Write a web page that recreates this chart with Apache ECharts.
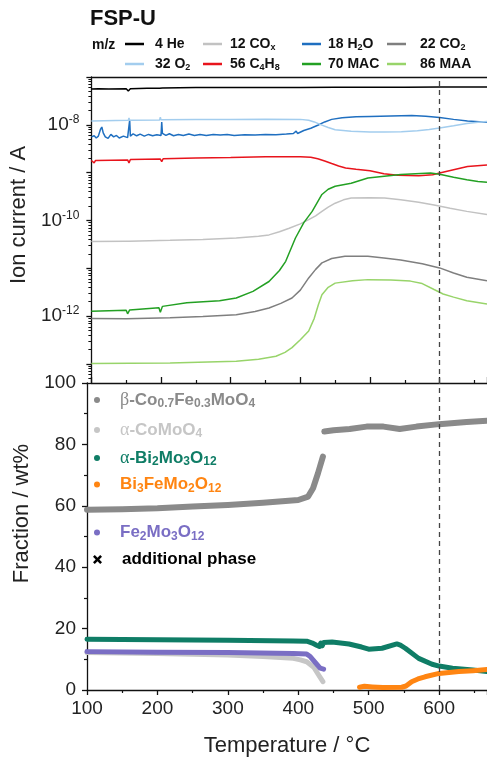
<!DOCTYPE html>
<html>
<head>
<meta charset="utf-8">
<script src="https://cdn.jsdelivr.net/npm/echarts@6/dist/echarts.min.js"></script>
<style>
  html, body { margin: 0; padding: 0; background: #fff; }
  #chart { width: 487px; height: 763px; }
</style>
</head>
<body>
<div id="chart"></div>
<script>
// ---- Temperature axis (°C) ----
const tempLabels = [100, 200, 300, 400, 500, 600];
const fractionLabels = [0, 20, 40, 60, 80, 100];
const logLabelExponents = [-8, -10, -12];

// ---- Mass spectrometer ion currents (A) vs temperature (°C) ----
const ms4He = [[100,5.6e-8],[110,5.7e-8],[125,5.6e-8],[150,5.7e-8],[153,5.1e-8],[156,5.7e-8],[180,5.8e-8],[198,5.8e-8],[200,5.3e-8],[202,5.9e-8],[250,6.0e-8],[300,6.0e-8],[350,6.0e-8],[400,6.0e-8],[450,6.1e-8],[500,6.1e-8],[550,6.1e-8],[600,6.2e-8],[668,6.2e-8]];
const ms12COx = [[100,3.65e-11],[150,3.7e-11],[152,3.4e-11],[154,3.7e-11],[213,3.85e-11],[260,4.0e-11],[308,4.3e-11],[340,4.7e-11],[355,5.0e-11],[370,5.8e-11],[384,6.9e-11],[400,8.5e-11],[412,1.04e-10],[422,1.25e-10],[431,1.55e-10],[440,1.9e-10],[450,2.3e-10],[462,2.7e-10],[473,2.95e-10],[500,3.0e-10],[521,2.95e-10],[544,2.7e-10],[570,2.4e-10],[592,2.1e-10],[615,1.8e-10],[639,1.55e-10],[668,1.33e-10]];
const ms18H2O = [[100,5.6e-9],[102,5.1e-9],[104,5.9e-9],[107,5.3e-9],[110,5.8e-9],[113,8.0e-9],[115,9.0e-9],[117,6.8e-9],[120,5.6e-9],[124,5.2e-9],[128,6.3e-9],[132,5.6e-9],[136,6.0e-9],[140,5.3e-9],[146,5.8e-9],[152,5.4e-9],[155,1.25e-8],[156,5.8e-9],[160,6.5e-9],[165,5.9e-9],[170,6.4e-9],[176,5.8e-9],[182,6.3e-9],[188,5.9e-9],[194,6.2e-9],[200,6.0e-9],[201,1.15e-8],[202,6.6e-9],[207,6.0e-9],[212,6.5e-9],[218,5.9e-9],[225,6.3e-9],[232,6.0e-9],[240,6.4e-9],[248,6.0e-9],[256,6.3e-9],[265,6.0e-9],[275,6.3e-9],[285,6.1e-9],[295,6.3e-9],[305,6.0e-9],[320,6.2e-9],[335,6.1e-9],[350,6.3e-9],[365,6.2e-9],[380,6.4e-9],[390,6.6e-9],[394,7.4e-9],[396,6.6e-9],[405,7.6e-9],[415,8.5e-9],[425,9.8e-9],[435,1.15e-8],[445,1.3e-8],[460,1.4e-8],[480,1.47e-8],[500,1.5e-8],[530,1.53e-8],[560,1.56e-8],[580,1.52e-8],[600,1.42e-8],[620,1.3e-8],[640,1.2e-8],[668,1.13e-8]];
const ms22CO2 = [[100,8.9e-13],[150,8.8e-13],[213,9.2e-13],[260,9.8e-13],[308,1.07e-12],[335,1.25e-12],[355,1.48e-12],[372,1.85e-12],[388,2.4e-12],[400,3.5e-12],[412,6.3e-12],[422,9.5e-12],[431,1.3e-11],[445,1.6e-11],[464,1.78e-11],[497,1.78e-11],[520,1.65e-11],[544,1.5e-11],[575,1.25e-11],[600,1.02e-11],[620,8.0e-12],[639,6.5e-12],[668,5.5e-12]];
const ms32O2 = [[100,1.2e-8],[153,1.24e-8],[154,1.4e-8],[155,1.24e-8],[198,1.26e-8],[199,1.45e-8],[200,1.27e-8],[250,1.29e-8],[300,1.3e-8],[350,1.31e-8],[400,1.3e-8],[412,1.25e-8],[420,1.15e-8],[430,1.0e-8],[440,8.8e-9],[450,7.9e-9],[473,7.3e-9],[500,7.1e-9],[521,7.1e-9],[545,7.2e-9],[568,7.5e-9],[585,8.0e-9],[600,8.6e-9],[620,9.6e-9],[639,1.07e-8],[655,1.13e-8],[668,1.17e-8]];
const ms56C4H8 = [[100,1.8e-9],[104,1.6e-9],[106,1.8e-9],[152,1.85e-9],[154,1.6e-9],[156,1.88e-9],[199,1.92e-9],[201,1.7e-9],[203,1.95e-9],[250,2.02e-9],[300,2.08e-9],[350,2.15e-9],[400,2.15e-9],[415,2.1e-9],[425,1.95e-9],[435,1.75e-9],[445,1.55e-9],[455,1.38e-9],[465,1.25e-9],[480,1.18e-9],[500,1.1e-9],[520,9.5e-10],[540,8.8e-10],[570,8.6e-10],[590,9.0e-10],[600,9.8e-10],[620,1.15e-9],[640,1.35e-9],[668,1.45e-9]];
const ms70MAC = [[100,1.26e-12],[150,1.33e-12],[152,1.12e-12],[155,1.35e-12],[197,1.5e-12],[199,1.2e-12],[202,1.6e-12],[237,1.9e-12],[284,2.1e-12],[308,2.4e-12],[332,3.3e-12],[355,5.3e-12],[370,9e-12],[379,1.4e-11],[393,4.3e-11],[405,9e-11],[417,1.55e-10],[431,3.5e-10],[440,4.5e-10],[450,5.2e-10],[473,6.0e-10],[497,7.7e-10],[544,9.1e-10],[587,9.8e-10],[600,9.3e-10],[620,8.0e-10],[639,7.1e-10],[655,6.5e-10],[668,6.3e-10]];
const ms86MAA = [[100,1.02e-13],[213,1.05e-13],[308,1.14e-13],[340,1.25e-13],[365,1.45e-13],[378,1.75e-13],[388,2.2e-13],[400,3.2e-13],[412,4.9e-13],[420,9e-13],[426,1.75e-12],[431,2.8e-12],[440,4.0e-12],[450,4.9e-12],[475,5.5e-12],[497,5.8e-12],[530,5.7e-12],[558,5.4e-12],[575,4.8e-12],[592,3.6e-12],[605,2.9e-12],[620,2.5e-12],[639,2.1e-12],[668,1.8e-12]];

// ---- Phase fractions (wt%) vs temperature (°C) ----
const betaCoFeMoO4 = [[100,58.7],[150,58.9],[200,59.2],[250,59.8],[300,60.3],[350,61.0],[400,61.9],[414,63.0],[421,65.7],[428,70.6],[435,76.0],[436,'-'],[437,84.2],[450,84.6],[473,85.0],[497,85.8],[521,85.8],[544,85.0],[568,85.8],[600,86.6],[639,87.3],[668,87.7]];
const alphaCoMoO4 = [[100,12.2],[200,11.9],[300,11.4],[350,10.9],[393,10.3],[403,9.8],[412,9.2],[422,7.4],[428,5.2],[435,2.7]];
const alphaBi2Mo3O12 = [[100,16.5],[200,16.4],[300,16.2],[393,16.0],[412,15.9],[420,15.3],[426,14.6],[430,14.2],[432,15.3],[434,14.4],[436,15.5],[448,15.6],[472,15.0],[490,14.0],[500,13.3],[519,13.6],[540,15.0],[545,14.6],[552,13.6],[571,10.3],[590,8.4],[600,7.8],[619,7.1],[648,6.5],[668,6.0]];
const bi3FeMo2O12 = [[487,0.9],[494,1.2],[505,1.0],[520,0.8],[547,0.9],[553,1.3],[561,2.7],[570,3.6],[580,4.3],[600,5.4],[628,6.0],[648,6.3],[668,6.7]];
const fe2Mo3O12 = [[100,12.5],[200,12.3],[300,12.2],[393,11.9],[412,11.7],[417,10.9],[424,9.0],[431,7.1],[436,6.8]];
const additionalPhase = [];

// Temperature of the dashed reference line
const markTemp = 600;

// ---- Names, legend labels, colours ----
const msNames = ['4 He', '12 COx', '18 H2O', '22 CO2', '32 O2', '56 C4H8', '70 MAC', '86 MAA'];
const msLabels = ['{n|4 He}', '{n|12 CO}{s|x}', '{n|18 H}{s|2}{n|O}', '{n|22 CO}{s|2}',
                  '{n|32 O}{s|2}', '{n|56 C}{s|4}{n|H}{s|8}', '{n|70 MAC}', '{n|86 MAA}'];
const msColors = ['#000000', '#c2c2c2', '#1f6fc0', '#7f7f7f', '#a3cdee', '#e8141c', '#23a023', '#98d46a'];
const msData = [ms4He, ms12COx, ms18H2O, ms22CO2, ms32O2, ms56C4H8, ms70MAC, ms86MAA];

const phaseNames = ['β-Co0.7Fe0.3MoO4', 'α-CoMoO4', 'α-Bi2Mo3O12', 'Bi3FeMo2O12', 'Fe2Mo3O12', 'additional phase'];
const phaseLabels = ['{g|β}{t|-Co}{s|0.7}{t|Fe}{s|0.3}{t|MoO}{s|4}', '{g|α}{t|-CoMoO}{s|4}',
                     '{g|α}{t|-Bi}{s|2}{t|Mo}{s|3}{t|O}{s|12}', '{t|Bi}{s|3}{t|FeMo}{s|2}{t|O}{s|12}',
                     '{t|Fe}{s|2}{t|Mo}{s|3}{t|O}{s|12}', '{t|additional phase}'];
const phaseColors = ['#8a8a8a', '#c6c6c6', '#0f7d66', '#ff8512', '#7a6ec4', '#000000'];
const phaseData = [betaCoFeMoO4, alphaCoMoO4, alphaBi2Mo3O12, bi3FeMo2O12, fe2Mo3O12, additionalPhase];
const phaseWidths = [6, 5, 5, 5, 5, 5];
// draw order: grey phases first, purple over them, then teal and orange
const phaseOrder = [0, 1, 4, 2, 3, 5];

const FONT = '"Liberation Sans", Arial, Helvetica, sans-serif';
const SERIF = '"Liberation Serif", "DejaVu Serif", serif';
const crossIcon = 'path://M2,0 L5,3 L8,0 L10,2 L7,5 L10,8 L8,10 L5,7 L2,10 L0,8 L3,5 L0,2 Z';

// legend placement (icon left, box top) and icon-to-text gaps per column
const msLegendPos = [[125, 37], [203, 37], [302, 37], [387, 37], [125, 57], [203, 57], [302, 57], [387, 57]];
const msTextGap = [6, 3, 2, 9, 6, 3, 2, 9];
const phaseLegendPos = [[94, 391], [94, 421], [94, 449], [94, 476], [94, 524], [93, 551]];

const legends = [];
msNames.forEach((name, i) => {
  legends.push({
    data: [{ name: name, icon: 'rect' }],
    left: msLegendPos[i][0], top: msLegendPos[i][1], padding: 0,
    itemWidth: 19, itemHeight: 2.5, selectedMode: false,
    formatter: () => msLabels[i],
    textStyle: {
      color: '#111', fontFamily: FONT, fontWeight: 'bold', fontSize: 14, padding: [0, 0, 0, msTextGap[i]],
      rich: {
        n: { fontFamily: FONT, fontWeight: 'bold', fontSize: 14, lineHeight: 16 },
        s: { fontFamily: FONT, fontWeight: 'bold', fontSize: 9, lineHeight: 6, verticalAlign: 'bottom' }
      }
    }
  });
});
phaseNames.forEach((name, i) => {
  legends.push({
    data: [{ name: name, icon: i === 5 ? crossIcon : 'circle' }],
    left: phaseLegendPos[i][0], top: phaseLegendPos[i][1], padding: 0,
    itemWidth: i === 5 ? 9 : 6, itemHeight: i === 5 ? 9 : 6, selectedMode: false,
    formatter: () => phaseLabels[i],
    textStyle: {
      color: phaseColors[i], fontFamily: FONT, fontWeight: 'bold', fontSize: 17, padding: [0, 0, 0, 15],
      rich: {
        t: { fontFamily: FONT, fontWeight: 'bold', fontSize: 17, lineHeight: 20 },
        g: { fontFamily: SERIF, fontWeight: 'normal', fontSize: 18, lineHeight: 20 },
        s: { fontFamily: FONT, fontWeight: 'bold', fontSize: 12, lineHeight: 8, verticalAlign: 'bottom' }
      }
    }
  });
});

const markLine = {
  silent: true, symbol: 'none', animation: false,
  label: { show: false },
  lineStyle: { color: '#444', type: [5, 4], width: 1.3 },
  data: [{ xAxis: markTemp }]
};

const series = [];
msNames.forEach((name, i) => {
  series.push({
    name: name, type: 'line', xAxisIndex: 0, yAxisIndex: 0,
    data: msData[i], showSymbol: false, symbol: 'none',
    color: msColors[i], lineStyle: { width: 1.5, color: msColors[i] },
    markLine: i === 0 ? markLine : undefined,
    animation: false, z: 3
  });
});
phaseOrder.forEach((i, k) => {
  series.push({
    name: phaseNames[i], type: 'line', xAxisIndex: 2, yAxisIndex: 1,
    data: phaseData[i], showSymbol: false, symbol: i === 5 ? crossIcon : 'circle',
    connectNulls: false,
    color: phaseColors[i], lineStyle: { width: phaseWidths[i], color: phaseColors[i], cap: 'round', join: 'round' },
    markLine: k === 0 ? markLine : undefined,
    animation: false, z: 3
  });
});

const axisLineStyle = { color: '#111', width: 1.3 };
const tickLabel = { fontFamily: FONT, fontSize: 19, color: '#222' };

const option = {
  backgroundColor: '#fff',
  animation: false,
  title: {
    text: 'FSP-U', left: 90, top: 8, padding: 0,
    textStyle: { fontFamily: FONT, fontWeight: 'bold', fontSize: 22, color: '#111' }
  },
  graphic: [{
    type: 'text', left: 92, top: 38,
    style: { text: 'm/z', fontFamily: FONT, fontWeight: 'bold', fontSize: 14, fill: '#111' }
  }],
  legend: legends,
  grid: [
    { left: 87, top: 77, width: 400, height: 306 },
    { left: 87, top: 383, width: 400, height: 307 }
  ],
  xAxis: [
    {
      gridIndex: 0, type: 'value', min: 100, max: 668, interval: 100, position: 'bottom',
      axisLine: { lineStyle: axisLineStyle },
      axisTick: { inside: true, length: 6, lineStyle: axisLineStyle },
      minorTick: { show: true, splitNumber: 2, length: 3, lineStyle: { color: '#111', width: 1.2 } },
      axisLabel: { show: false }, splitLine: { show: false }
    },
    {
      gridIndex: 0, type: 'value', min: 100, max: 668, interval: 100, position: 'top',
      axisLine: { lineStyle: axisLineStyle },
      axisTick: { show: false }, axisLabel: { show: false }, splitLine: { show: false }
    },
    {
      gridIndex: 1, type: 'value', min: 100, max: 668, interval: 100, position: 'bottom',
      axisLine: { lineStyle: axisLineStyle },
      axisTick: { inside: false, length: 5, lineStyle: axisLineStyle },
      minorTick: { show: true, splitNumber: 2, length: 3, lineStyle: { color: '#111', width: 1.2 } },
      axisLabel: {
        ...tickLabel, margin: 9, showMaxLabel: false,
        formatter: v => (tempLabels.indexOf(v) >= 0 ? String(v) : '')
      },
      splitLine: { show: false },
      name: 'Temperature / °C', nameLocation: 'middle', nameGap: 45,
      nameTextStyle: { fontFamily: FONT, fontSize: 22, color: '#222' }
    }
  ],
  yAxis: [
    {
      gridIndex: 0, type: 'log', logBase: 10, min: 4e-14, max: 1e-7, splitNumber: 7,
      axisLine: { lineStyle: axisLineStyle },
      axisTick: { inside: false, length: 5, lineStyle: axisLineStyle },
      minorTick: { show: true, splitNumber: 9, length: 3, lineStyle: { color: '#111', width: 1 } },
      splitLine: { show: false }, minorSplitLine: { show: false },
      axisLabel: {
        margin: 12, showMinLabel: false, showMaxLabel: false,
        formatter: v => {
          const e = Math.round(Math.log10(v));
          if (Math.abs(Math.log10(v) - e) > 1e-6 || logLabelExponents.indexOf(e) < 0) return '';
          return '{b|10}{sup|' + e + '}';
        },
        rich: {
          b: { fontFamily: FONT, fontSize: 19, color: '#222', lineHeight: 22 },
          sup: { fontFamily: FONT, fontSize: 12, color: '#222', lineHeight: 12, verticalAlign: 'top' }
        }
      },
      name: 'Ion current / A', nameLocation: 'middle', nameGap: 54, nameRotate: 90,
      nameTextStyle: { fontFamily: FONT, fontSize: 22, color: '#222', padding: [0, 0, 0, 30] }
    },
    {
      gridIndex: 1, type: 'value', min: 0, max: 100, interval: 20,
      axisLine: { lineStyle: axisLineStyle },
      axisTick: { inside: false, length: 5, lineStyle: axisLineStyle },
      minorTick: { show: true, splitNumber: 2, length: 3, lineStyle: { color: '#111', width: 1.2 } },
      splitLine: { show: false },
      axisLabel: {
        ...tickLabel, margin: 11,
        formatter: v => (fractionLabels.indexOf(v) >= 0 ? String(v) : '')
      },
      name: 'Fraction / wt%', nameLocation: 'middle', nameGap: 54, nameRotate: 90,
      nameTextStyle: { fontFamily: FONT, fontSize: 22, color: '#222', padding: [0, 0, 0, 46] }
    }
  ],
  series: series
};

const chart = echarts.init(document.getElementById('chart'), null, { renderer: 'canvas' });
chart.setOption(option);
</script>
</body>
</html>
